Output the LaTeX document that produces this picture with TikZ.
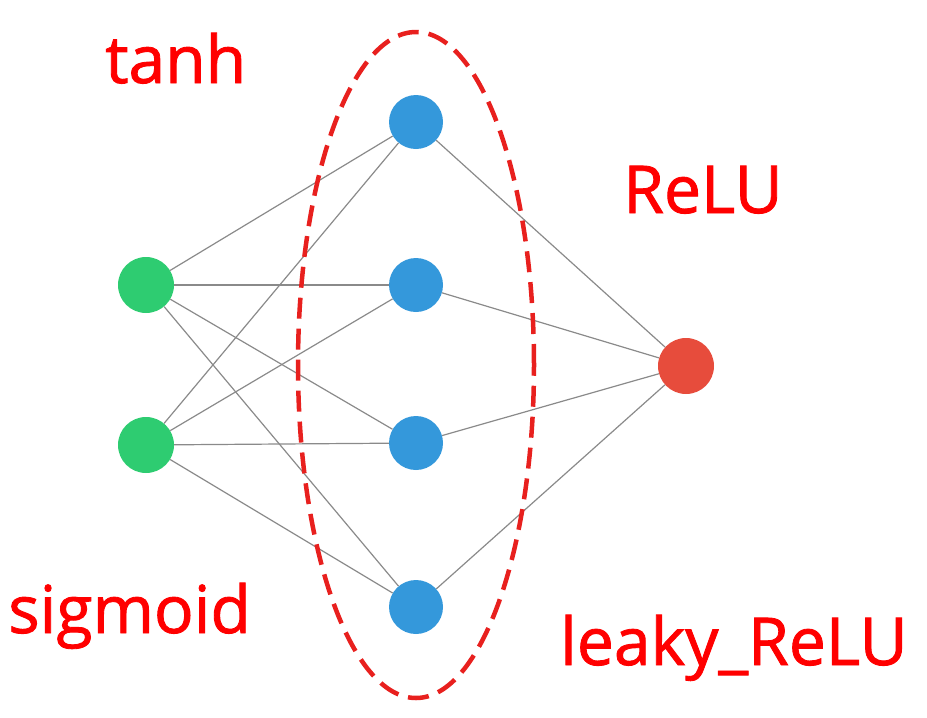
\documentclass[tikz,border=0pt]{standalone}
\usepackage{fontspec}
\setmainfont{Open Sans}
\newfontfamily\labfont[FakeBold=1.3]{Open Sans}
\usetikzlibrary{shapes.geometric,backgrounds}
\definecolor{ngreen}{HTML}{2ECC71}
\definecolor{nblue}{HTML}{3498DB}
\definecolor{nred}{HTML}{E74C3C}
\definecolor{lbl}{HTML}{FF0000}
\definecolor{dashred}{HTML}{E8201E}
\definecolor{edgegray}{HTML}{8A8A8A}
\begin{document}
\begin{tikzpicture}[x=1pt,y=-1pt,
  neuron/.style={circle,minimum size=56pt,inner sep=0pt},
  inp/.style={neuron,fill=ngreen},
  hid/.style={neuron,fill=nblue,minimum size=54pt},
  outn/.style={neuron,fill=nred},
  edge/.style={draw=edgegray,line width=1.2pt},
  lab/.style={text=lbl,font=\labfont\fontsize{66}{66}\selectfont,anchor=base west,inner sep=0pt}]
\useasboundingbox (0,0) rectangle (927,718);
\node[inp] (i1) at (146,285) {};
\node[inp] (i2) at (146,445) {};
\node[hid] (h1) at (416,122) {};
\node[hid] (h2) at (416,285) {};
\node[hid] (h3) at (416,443) {};
\node[hid] (h4) at (416,607) {};
\node[outn] (o) at (686,366) {};
\begin{scope}[on background layer]
\foreach \a in {i1,i2}{\foreach \b in {h1,h2,h3,h4}{\draw[edge] (\a) -- (\b);}}
\foreach \b in {h1,h2,h3,h4}{\draw[edge] (\b) -- (o);}
\end{scope}
\node[draw=dashred,line width=4.5pt,dash pattern=on 21pt off 10pt,ellipse,minimum width=236pt,minimum height=666pt,inner sep=0pt] (ell) at (416,365) {};
\node[lab] (t1) at (105,83) {tanh};
\node[lab] (t2) at (623,213) {ReLU};
\node[lab] (t3) at (8,633) {sigmoid};
\node[lab] (t4) at (560,665) {leaky\_ReLU};
\end{tikzpicture}
\end{document}
